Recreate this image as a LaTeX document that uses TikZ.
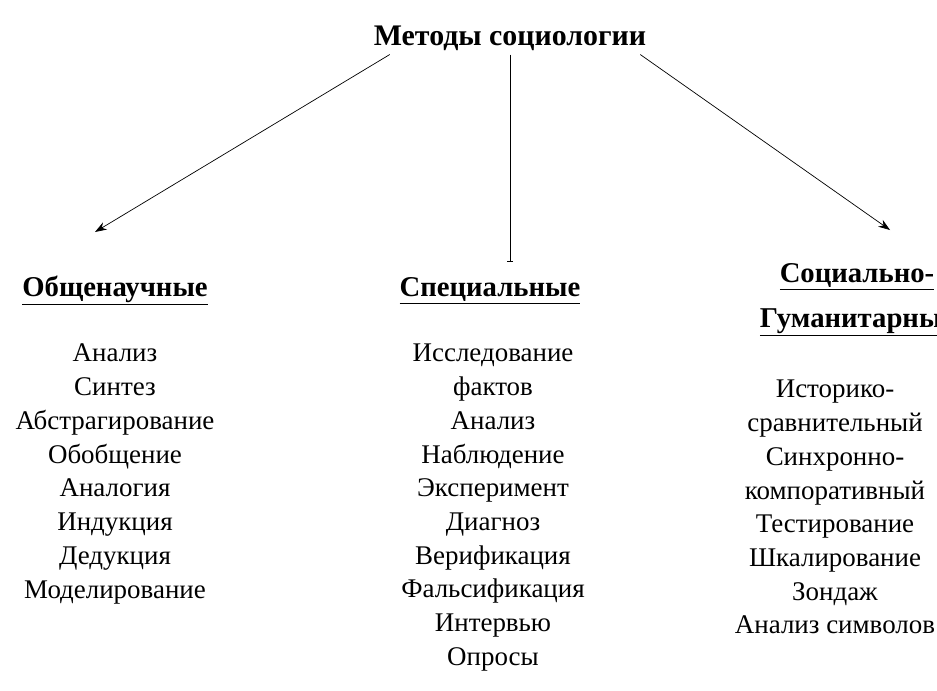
\documentclass[tikz,border=0pt]{standalone}
\usepackage{fontspec}
\setmainfont{Liberation Serif}
\usetikzlibrary{positioning,arrows.meta}

\begin{document}
\begin{tikzpicture}[x=0.03cm,y=-0.03cm,
    head/.style={font=\fontsize{25.5}{30}\selectfont\bfseries},
    group/.style={font=\fontsize{24.5}{38}\selectfont\bfseries, align=center},
    items/.style={font=\fontsize{23}{28.8}\selectfont, align=center, anchor=north},
    link/.style={-{Stealth[length=10pt,width=7pt]}, semithick}]
    \useasboundingbox (0,0) rectangle (937,690);

    \node[head] (title) at (510,38) {Методы социологии};

    \node[group] (general) at (115,290) {\underline{Общенаучные}};
    \node[group] (special) at (490,291) {\underline{Специальные}};
    \node[group] (human) at (857,300) {\underline{Социально-}\\\underline{Гуманитарные}};

    \coordinate (gtip) at (95,232);
    \coordinate (stip) at (510,262);
    \coordinate (htip) at (890,230);

    \draw[link] (title.south west) ++(20,0) -- (gtip);
    \draw[-Bar, semithick] (title.south) -- (stip);
    \draw[link] (title.south east) ++(-10,0) -- (htip);

    \node[items] (genlist) at (115,340) {Анализ\\Синтез\\Абстрагирование\\Обобщение\\Аналогия\\Индукция\\Дедукция\\Моделирование};
    \node[items] (speclist) at (493,340) {Исследование\\фактов\\Анализ\\Наблюдение\\Эксперимент\\Диагноз\\Верификация\\Фальсификация\\Интервью\\Опросы};
    \node[items] (humlist) at (835,376) {Историко-\\сравнительный\\Синхронно-\\компоративный\\Тестирование\\Шкалирование\\Зондаж\\Анализ символов};
\end{tikzpicture}
\end{document}
